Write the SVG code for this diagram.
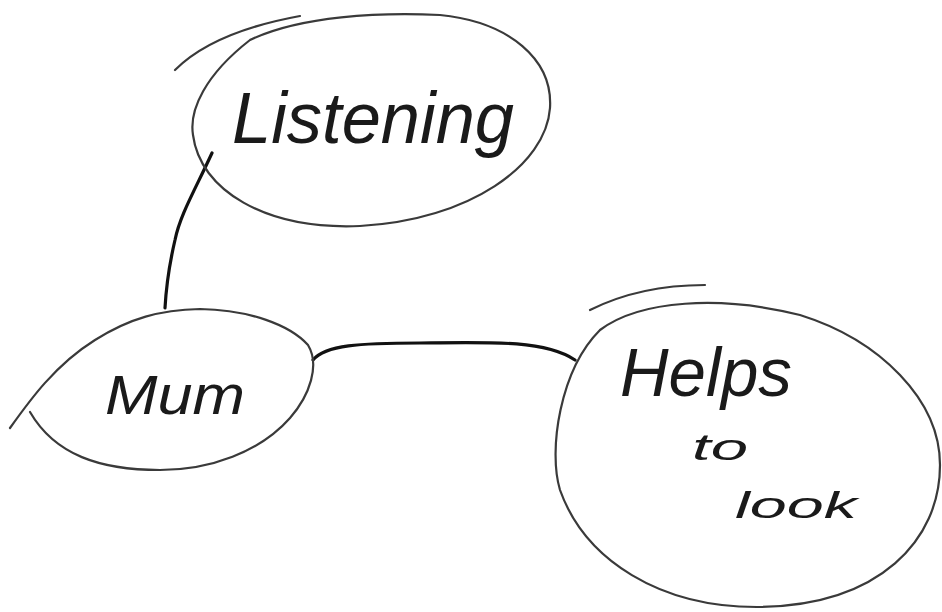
<svg xmlns="http://www.w3.org/2000/svg" width="942" height="612" viewBox="0 0 942 612">
  <style>
    .ink { fill: none; stroke: #2a2a2a; stroke-linecap: round; stroke-linejoin: round; }
    .thin { stroke-width: 2.2; stroke: #3a3a3a; }
    .bold { stroke-width: 3.2; stroke: #111; }
    .hand { font-family: "Liberation Sans", "DejaVu Sans", sans-serif; fill: #1a1a1a; font-style: italic; }
  </style>
  <rect width="942" height="612" fill="#ffffff"/>

  <g id="connectors">
    <path class="ink bold" d="M 212,153 C 195,190 180,215 175,240 C 168,270 166,290 165,308"/>
    <path class="ink bold" d="M 313,360 C 325,345 360,343 420,343 C 490,342 545,340 575,360"/>
  </g>

  <g id="listening">
    <path class="ink thin" d="M 175,70 C 200,45 240,27 300,16"/>
    <path class="ink thin" d="M 250,40 C 300,16 380,12 440,15 C 510,22 553,60 550,108 C 546,165 470,220 360,226 C 265,230 200,190 193,135 C 189,110 205,75 250,40"/>
    <text class="hand" x="232" y="143" font-size="72" textLength="282" lengthAdjust="spacingAndGlyphs">Listening</text>
  </g>

  <g id="mum">
    <path class="ink thin" d="M 10,428 C 30,400 55,365 95,340 C 130,318 160,310 200,309 C 250,310 290,325 308,345 C 320,365 310,395 290,418 C 260,452 210,470 160,470 C 100,470 55,455 30,412"/>
    <text class="hand" x="105" y="414" font-size="56" textLength="140" lengthAdjust="spacingAndGlyphs">Mum</text>
  </g>

  <g id="helps">
    <path class="ink thin" d="M 590,310 C 620,295 660,285 705,285"/>
    <path class="ink thin" d="M 600,330 C 640,300 720,295 800,315 C 880,340 940,400 940,465 C 940,540 880,605 760,607 C 660,608 585,560 560,490 C 548,450 560,370 600,330"/>
    <text class="hand" x="620" y="396" font-size="68" textLength="172" lengthAdjust="spacingAndGlyphs">Helps</text>
    <text class="hand" x="692" y="460" font-size="36" textLength="56" lengthAdjust="spacingAndGlyphs">to</text>
    <text class="hand" x="735" y="518" font-size="36" textLength="122" lengthAdjust="spacingAndGlyphs">look</text>
  </g>
</svg>
